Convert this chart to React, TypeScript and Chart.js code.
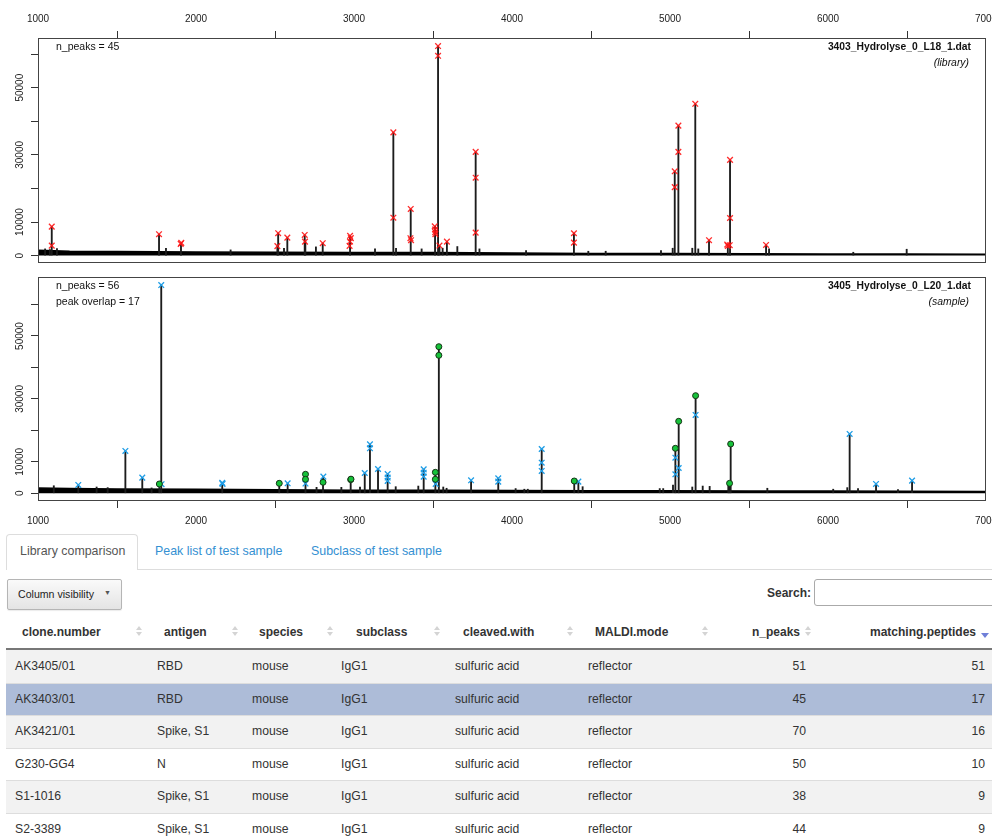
import React, { useEffect, useRef } from 'react';
import { Chart, registerables } from 'chart.js';

Chart.register(...registerables);

// ---------- axis ticks ----------
const MZ_TICKS = [1000, 2000, 3000, 4000, 5000, 6000, 7000];
const INTENSITY_TICKS = [0, 10000, 20000, 30000, 40000, 50000, 60000];
const INTENSITY_LABELS = ['0', '10000', '', '30000', '', '50000', ''];

// ---------- library spectrum (top) ----------
const libraryBaseline: [number, number][] = [
  [1000, 1600], [1200, 1300], [1500, 1200], [2000, 1100], [2500, 1000], [3000, 950], [3500, 900],
  [4000, 750], [4500, 650], [5000, 650], [5500, 550], [6000, 500], [6500, 450], [7000, 400],
];
const librarySpectrum: [number, number][] = [
  [1045, 2000], [1075, 1800], [1087, 8630], [1120, 2100], [1766, 6370], [1810, 2200], [1905, 3800],
  [2219, 1700], [2515, 2830], [2520, 6670], [2557, 2200], [2578, 5360], [2688, 6160], [2692, 4200],
  [2759, 2600], [2802, 3690], [2975, 5900], [3133, 2000], [3249, 36700], [3266, 2200], [3359, 13900],
  [3428, 2000], [3513, 8700], [3532, 62400], [3541, 3000], [3561, 2200], [3588, 4170], [3654, 2700],
  [3770, 30900], [3794, 2000], [4089, 1500], [4392, 6660], [4483, 1300], [4593, 1300], [4943, 1500],
  [5017, 2200], [5030, 25100], [5053, 38700], [5141, 2200], [5160, 45200], [5179, 2000], [5247, 4580],
  [5366, 3300], [5380, 28500], [5608, 3180], [5627, 2000], [6160, 1000], [6498, 1900],
];
const libraryPeaks: [number, number][] = [
  [1087, 8630], [1087, 2980], [1766, 6370], [1903, 3500], [1907, 3800], [2520, 6670], [2515, 2830],
  [2578, 5360], [2688, 6160], [2690, 4170], [2802, 3690], [2975, 5900], [2980, 5200], [2975, 4200],
  [2972, 2900], [3249, 36700], [3249, 11300], [3359, 13900], [3357, 5180], [3361, 4600], [3511, 8700],
  [3513, 7800], [3514, 7000], [3515, 6400], [3532, 62400], [3532, 59500], [3541, 3000], [3588, 4170],
  [3770, 30900], [3770, 23200], [3770, 6850], [4392, 6660], [4392, 3870], [5030, 25100], [5030, 20400],
  [5053, 38700], [5053, 30900], [5160, 45200], [5247, 4580], [5362, 3300], [5366, 2900], [5380, 28500],
  [5380, 11200], [5378, 3100], [5608, 3180],
];

// ---------- sample spectrum (bottom) ----------
const sampleBaseline: [number, number][] = [
  [1000, 1700], [1200, 1500], [1500, 1400], [2000, 1250], [2500, 1100], [3000, 1000], [3500, 950],
  [4000, 850], [4500, 800], [5000, 800], [5500, 750], [6000, 700], [6500, 650], [7000, 600],
];
const sampleSpectrum: [number, number][] = [
  [1100, 2400], [1255, 2640], [1371, 2000], [1441, 1800], [1553, 13450], [1660, 4970], [1719, 1700],
  [1768, 2960], [1780, 66200], [2166, 3300], [2527, 3170], [2580, 3170], [2693, 6040], [2763, 1900],
  [2804, 5290], [2920, 1900], [2979, 4500], [3038, 2000], [3068, 6450], [3101, 15570], [3152, 7720],
  [3213, 6130], [3264, 2100], [3407, 2300], [3441, 7600], [3515, 6670], [3537, 46600], [3565, 2000],
  [3586, 1600], [3741, 4130], [3913, 4770], [4023, 1500], [4078, 1300], [4100, 1300], [4188, 14080],
  [4394, 3910], [4420, 3700], [4447, 2100], [4935, 1500], [4957, 1500], [5019, 2600], [5034, 14300],
  [5055, 22880], [5141, 2000], [5162, 31030], [5207, 2300], [5251, 2200], [5369, 2500], [5377, 3170],
  [5384, 15670], [5616, 1600], [6033, 1300], [6122, 1800], [6137, 18850], [6190, 1500], [6304, 2960],
  [6443, 1200], [6532, 4020],
];
const sampleUnmatchedPeaks: [number, number][] = [
  [1255, 2640], [1553, 13450], [1660, 4970], [1780, 66200], [1782, 2900], [2166, 3300], [2168, 3000],
  [2580, 3170], [2693, 3100], [2806, 5290], [3068, 6450], [3101, 15570], [3101, 14300], [3152, 7720],
  [3213, 6130], [3213, 5000], [3213, 3950], [3441, 7600], [3441, 6550], [3441, 5290], [3517, 2970],
  [3741, 4130], [3913, 4770], [3913, 3710], [4188, 14080], [4188, 9730], [4188, 7090], [4420, 3700],
  [5034, 11320], [5034, 6040], [5055, 8040], [5162, 24890], [6137, 18850], [6304, 2960], [6532, 4020],
];
const sampleMatchedPeaks: [number, number][] = [
  [1768, 2960], [2527, 3170], [2693, 6040], [2693, 4450], [2804, 3500], [2979, 4340], [2981, 4500],
  [3515, 6670], [3515, 4450], [3537, 46600], [3537, 43850], [4394, 3910], [5034, 14300], [5055, 22880],
  [5162, 31030], [5384, 15670], [5377, 3170],
];

// ---------- table ----------
const tabLabels = ['Library comparison', 'Peak list of test sample', 'Subclass of test sample'];
const columnNames = ['clone.number', 'antigen', 'species', 'subclass', 'cleaved.with', 'MALDI.mode', 'n_peaks', 'matching.peptides'];
const cloneNumbers = ['AK3405/01', 'AK3403/01', 'AK3421/01', 'G230-GG4', 'S1-1016', 'S2-3389'];
const antigens = ['RBD', 'RBD', 'Spike, S1', 'N', 'Spike, S1', 'Spike, S1'];
const speciesList = ['mouse', 'mouse', 'mouse', 'mouse', 'mouse', 'mouse'];
const subclasses = ['IgG1', 'IgG1', 'IgG1', 'IgG1', 'IgG1', 'IgG1'];
const cleavedWith = ['sulfuric acid', 'sulfuric acid', 'sulfuric acid', 'sulfuric acid', 'sulfuric acid', 'sulfuric acid'];
const maldiModes = ['reflector', 'reflector', 'reflector', 'reflector', 'reflector', 'reflector'];
const nPeaks = [51, 45, 70, 50, 38, 44];
const matchingPeptides = [51, 17, 16, 10, 9, 9];
const selectedRow = 1;

const FONT = '"Liberation Sans", Arial, Helvetica, sans-serif';

type MarkerSet = { data: [number, number][]; kind: 'redx' | 'bluex' | 'green' };

type SpecProps = {
  top: number;
  height: number;
  axisTop: boolean;
  yMin: number;
  yMax: number;
  baseline: [number, number][];
  spectrum: [number, number][];
  markers: MarkerSet[];
  leftText: string[];
  title: string;
  subtitle: string;
};

function SpectrumChart(p: SpecProps) {
  const ref = useRef<HTMLCanvasElement>(null);
  useEffect(() => {
    const toXY = (arr: [number, number][]) => arr.map(([x, y]) => ({ x, y }));
    const markerDs = p.markers.map((m) => {
      if (m.kind === 'green') {
        return {
          type: 'scatter', data: toXY(m.data), order: 0,
          pointStyle: 'circle', pointRadius: 3, pointBackgroundColor: '#16c23a',
          pointBorderColor: '#163416', pointBorderWidth: 1, showLine: false,
        };
      }
      const c = m.kind === 'redx' ? 'rgba(255,20,20,0.9)' : '#1e9de6';
      return {
        type: 'scatter', data: toXY(m.data), order: 1,
        pointStyle: 'crossRot', pointRadius: 4, pointBorderColor: c, pointBackgroundColor: c,
        pointBorderWidth: 1.3, showLine: false,
      };
    });
    const datasets: any[] = [
      ...markerDs,
      {
        type: 'bar', data: toXY(p.spectrum), backgroundColor: '#1c1c1c', borderWidth: 0,
        barThickness: 1.2, order: 2,
      },
      {
        type: 'line', data: toXY(p.baseline), borderColor: '#000', borderWidth: 1.5,
        backgroundColor: '#000', fill: 'origin', pointRadius: 0, tension: 0, order: 3,
      },
    ];

    const decor = {
      id: 'decor',
      afterDraw(chart: any) {
        const { ctx, chartArea: a } = chart;
        const xs = chart.scales.x;
        const ys = chart.scales.y;
        ctx.save();
        // box
        ctx.strokeStyle = '#444';
        ctx.lineWidth = 1;
        ctx.strokeRect(Math.round(a.left) + 0.5, Math.round(a.top) + 0.5,
          Math.round(a.right - a.left) - 1, Math.round(a.bottom - a.top) - 1);
        // tick labels
        ctx.fillStyle = '#222';
        ctx.font = `10px ${FONT}`;
        ctx.textAlign = 'center';
        ctx.textBaseline = 'middle';
        const ly = p.axisTop ? a.top - 19 : a.bottom + 20;
        MZ_TICKS.forEach((v) => ctx.fillText(String(v), xs.getPixelForValue(v), ly));
        INTENSITY_TICKS.forEach((v, i) => {
          const lab = INTENSITY_LABELS[i];
          if (!lab) return;
          ctx.save();
          ctx.translate(a.left - 18, ys.getPixelForValue(v));
          ctx.rotate(-Math.PI / 2);
          ctx.fillText(lab, 0, 0);
          ctx.restore();
        });
        // annotations
        ctx.fillStyle = '#111';
        ctx.textAlign = 'left';
        ctx.font = `10.5px ${FONT}`;
        p.leftText.forEach((t, i) => ctx.fillText(t, a.left + 18, a.top + 9.5 + i * 16));
        ctx.textAlign = 'right';
        ctx.font = `bold 10.3px ${FONT}`;
        ctx.fillText(p.title, a.right - 15, a.top + 9.5);
        ctx.font = `italic 10.4px ${FONT}`;
        ctx.fillText(p.subtitle, a.right - 17, a.top + 25);
        ctx.restore();
      },
    };

    const tickGrid = { drawOnChartArea: false, drawTicks: true, tickLength: 7, color: '#333', lineWidth: 1 };
    const chart = new Chart(ref.current as HTMLCanvasElement, {
      type: 'scatter',
      data: { datasets },
      options: {
        animation: false,
        responsive: false,
        devicePixelRatio: 1,
        events: [],
        layout: {
          padding: p.axisTop
            ? { top: 0, right: 6, bottom: 7, left: 0 }
            : { top: 7, right: 6, bottom: 0, left: 0 },
        },
        plugins: { legend: { display: false }, tooltip: { enabled: false } },
        scales: {
          x: {
            type: 'linear', position: p.axisTop ? 'top' : 'bottom', min: 1000, max: 7000, offset: false,
            afterBuildTicks: (s: any) => { s.ticks = MZ_TICKS.map((v) => ({ value: v })); },
            afterFit: (s: any) => { s.height = p.axisTop ? 38 : 31; },
            ticks: { display: false },
            grid: tickGrid,
            border: { display: false },
          },
          y: {
            type: 'linear', position: 'left', min: p.yMin, max: p.yMax,
            afterBuildTicks: (s: any) => { s.ticks = INTENSITY_TICKS.map((v) => ({ value: v })); },
            afterFit: (s: any) => { s.width = 38; },
            ticks: { display: false },
            grid: tickGrid,
            border: { display: false },
          },
        },
      } as any,
      plugins: [decor],
    });
    return () => chart.destroy();
  }, []);
  return (
    <canvas
      ref={ref}
      width={992}
      height={p.height}
      style={{ position: 'absolute', left: 0, top: p.top, width: 992, height: p.height }}
    />
  );
}

function SortBoth({ x }: { x: number }) {
  return (
    <div style={{ position: 'absolute', left: x - 3.5, top: 626, width: 7, height: 12 }}>
      <div style={{ width: 0, height: 0, borderLeft: '3.5px solid transparent', borderRight: '3.5px solid transparent', borderBottom: '4.5px solid #d4d4d4' }} />
      <div style={{ height: 2 }} />
      <div style={{ width: 0, height: 0, borderLeft: '3.5px solid transparent', borderRight: '3.5px solid transparent', borderTop: '4.5px solid #d4d4d4' }} />
    </div>
  );
}

export default function App() {
  const headerLeft = [22, 164, 259, 356, 463, 595];
  const sortIcons = [139, 235, 330, 437, 570, 705, 808];
  const cellLeft = [15, 157, 252, 341, 455, 588];
  const rowTop0 = 650;
  const rowH = 32.5;
  const textSpan = (text: string, style: React.CSSProperties, key?: any) => (
    <span key={key} style={{ position: 'absolute', whiteSpace: 'nowrap', lineHeight: '16px', ...style }}>{text}</span>
  );
  const tabX = [20, 155, 311];

  return (
    <div style={{ position: 'absolute', left: 0, top: 0, width: 992, height: 838, overflow: 'hidden', background: '#fff', fontFamily: FONT, color: '#333' }}>
      <SpectrumChart
        top={0} height={270} axisTop yMin={-2200} yMax={64800}
        baseline={libraryBaseline} spectrum={librarySpectrum}
        markers={[{ data: libraryPeaks, kind: 'redx' }]}
        leftText={['n_peaks = 45']}
        title="3403_Hydrolyse_0_L18_1.dat" subtitle="(library)"
      />
      <SpectrumChart
        top={270} height={262} axisTop={false} yMin={-2450} yMax={68750}
        baseline={sampleBaseline} spectrum={sampleSpectrum}
        markers={[{ data: sampleUnmatchedPeaks, kind: 'bluex' }, { data: sampleMatchedPeaks, kind: 'green' }]}
        leftText={['n_peaks = 56', 'peak overlap = 17']}
        title="3405_Hydrolyse_0_L20_1.dat" subtitle="(sample)"
      />

      {/* tabs */}
      <div style={{ position: 'absolute', left: 6, top: 569, width: 986, height: 1, background: '#ddd' }} />
      <div style={{ position: 'absolute', left: 6, top: 534, width: 132, height: 36, boxSizing: 'border-box', background: '#fff', border: '1px solid #ddd', borderBottom: 'none', borderRadius: '4px 4px 0 0' }} />
      {tabLabels.map((t, i) =>
        textSpan(t, { left: tabX[i], top: 551 - 8, fontSize: 12.4, color: i === 0 ? '#555' : '#3490d2' }, 'tab' + i))}

      {/* column visibility button */}
      <div style={{ position: 'absolute', left: 7, top: 579, width: 115, height: 31, boxSizing: 'border-box', border: '1px solid #b5b5b5', borderRadius: 2, background: 'linear-gradient(to bottom, #fafafa 0%, #e4e4e4 100%)', boxShadow: '0 1px 1px rgba(0,0,0,0.08)' }} />
      {textSpan('Column visibility', { left: 18, top: 594 - 8, fontSize: 10.6, color: '#222' })}
      {textSpan('▼', { left: 104, top: 593 - 8, fontSize: 7, color: '#555' })}

      {/* search */}
      {textSpan('Search:', { right: 992 - 811, top: 593 - 8, fontSize: 12, fontWeight: 'bold', color: '#333' })}
      <div style={{ position: 'absolute', left: 814, top: 579, width: 200, height: 27, boxSizing: 'border-box', border: '1px solid #aaa', borderRadius: 3, background: '#fff' }} />

      {/* header */}
      {columnNames.slice(0, 6).map((c, i) =>
        textSpan(c, { left: headerLeft[i], top: 632 - 8, fontSize: 12, fontWeight: 'bold', color: '#333' }, 'h' + i))}
      {textSpan(columnNames[6], { right: 992 - 800, top: 632 - 8, fontSize: 12, fontWeight: 'bold', color: '#333' })}
      {textSpan(columnNames[7], { right: 992 - 976, top: 632 - 8, fontSize: 12, fontWeight: 'bold', color: '#333' })}
      {sortIcons.map((x, i) => <SortBoth key={'s' + i} x={x} />)}
      <div style={{ position: 'absolute', left: 981, top: 633, width: 0, height: 0, borderLeft: '4px solid transparent', borderRight: '4px solid transparent', borderTop: '5px solid #6f7fd8' }} />
      <div style={{ position: 'absolute', left: 6, top: 648, width: 986, height: 2, background: '#777' }} />

      {/* rows */}
      {cloneNumbers.map((_, r) => {
        const top = rowTop0 + r * rowH;
        const bg = r === selectedRow ? '#adbcd8' : r % 2 === 0 ? '#f2f2f2' : '#fff';
        const cy = top + rowH / 2;
        const vals = [cloneNumbers[r], antigens[r], speciesList[r], subclasses[r], cleavedWith[r], maldiModes[r]];
        return (
          <React.Fragment key={'r' + r}>
            <div style={{ position: 'absolute', left: 6, top, width: 986, height: rowH, background: bg, borderTop: r > 0 ? '1px solid #ddd' : 'none', boxSizing: 'border-box' }} />
            {vals.map((v, i) => textSpan(v, { left: cellLeft[i], top: cy - 8, fontSize: 12.2, color: '#333' }, 'c' + r + '_' + i))}
            {textSpan(String(nPeaks[r]), { right: 992 - 806, top: cy - 8, fontSize: 12.2, color: '#333' })}
            {textSpan(String(matchingPeptides[r]), { right: 992 - 985, top: cy - 8, fontSize: 12.2, color: '#333' })}
          </React.Fragment>
        );
      })}
    </div>
  );
}
